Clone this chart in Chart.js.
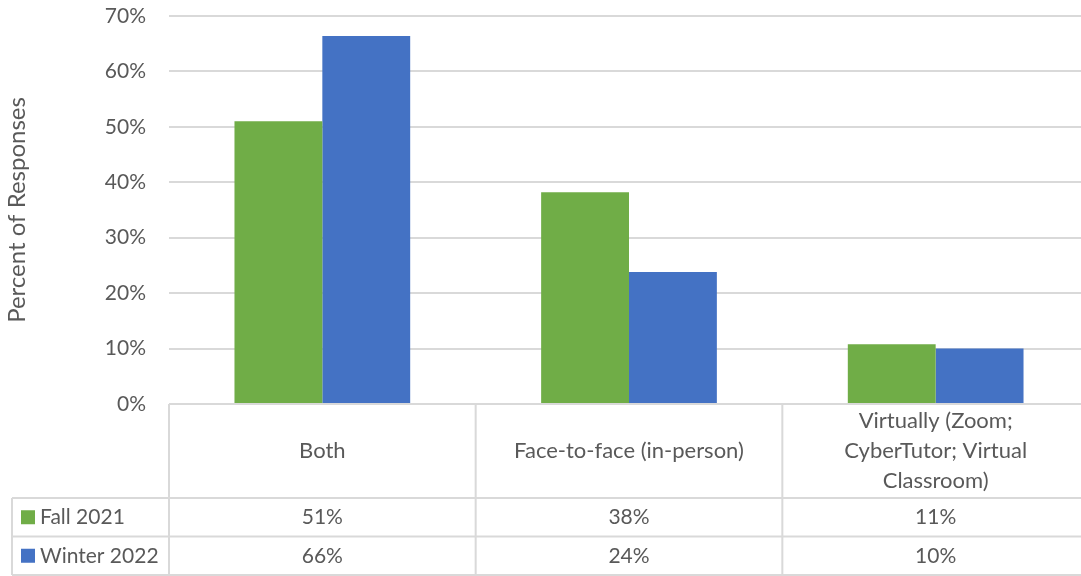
<!DOCTYPE html>
<html><head><meta charset="utf-8">
<script src="https://cdn.jsdelivr.net/npm/chart.js@4"></script>
<style>html,body{margin:0;padding:0;background:#fff;overflow:hidden;width:1081px;height:576px}#wrap{width:1090px;height:576px;position:relative}</style>
</head><body><div id="wrap"><canvas id="c"></canvas></div>
<script>
const categories = ["Both", "Face-to-face (in-person)", ["Virtually (Zoom;", "CyberTutor; Virtual", "Classroom)"]];
const seriesNames = ["Fall 2021", "Winter 2022"];
const fall2021 = [51.0, 38.2, 10.8];
const winter2022 = [66.4, 23.8, 10.0];
const yTickValues = [0, 10, 20, 30, 40, 50, 60, 70];
const seriesColors = ["#70ad47", "#4472c4"];

const FONT = "Lato";
const FS = 21;
const FS_CAT = 22;
const FS_TITLE = 24;
const TXT = "#595959";
const LINE = "#d9d9d9";

const tablePlugin = {
  id: 'dataTable',
  afterDraw(chart) {
    const ctx = chart.ctx, a = chart.chartArea, xs = chart.scales.x;
    const n = categories.length;
    const colW = (a.right - a.left) / n;
    const headH = 94, rowH = 38.5;
    const yTop = a.bottom, yHead = yTop + headH, yR1 = yHead + rowH, yEnd = yR1 + rowH;
    const xLeft = 12;
    ctx.save();
    ctx.strokeStyle = LINE; ctx.lineWidth = 2;
    ctx.beginPath();
    for (let i = 0; i <= n; i++) {
      const x = a.left + i * colW;
      ctx.moveTo(x, yTop); ctx.lineTo(x, yEnd);
    }
    ctx.moveTo(xLeft, yHead); ctx.lineTo(xLeft, yEnd);
    [yHead, yR1, yEnd].forEach(y => { ctx.moveTo(xLeft, y); ctx.lineTo(a.right, y); });
    ctx.stroke();

    ctx.fillStyle = TXT;
    ctx.font = FS_CAT + "px " + FONT;
    ctx.textAlign = "center"; ctx.textBaseline = "middle";
    const lh = 30;
    categories.forEach((c, i) => {
      const lines = Array.isArray(c) ? c : [c];
      const cx = xs.getPixelForValue(i);
      const cy = (yTop + yHead) / 2;
      lines.forEach((l, j) => ctx.fillText(l, cx, cy + (j - (lines.length - 1) / 2) * lh));
    });
    ctx.font = FS + "px " + FONT;
    const dataRows = [fall2021, winter2022];
    dataRows.forEach((row, r) => {
      const cy = yHead + rowH * (r + 0.5);
      row.forEach((v, i) => {
        ctx.textAlign = "center";
        ctx.fillText(Math.round(v) + "%", xs.getPixelForValue(i), cy);
      });
      ctx.fillStyle = seriesColors[r];
      ctx.fillRect(xLeft + 9, cy - 7, 14, 14);
      ctx.fillStyle = TXT;
      ctx.textAlign = "left";
      ctx.fillText(seriesNames[r], xLeft + 28, cy);
    });
    ctx.restore();
  }
};

new Chart(document.getElementById('c'), {
  type: 'bar',
  data: {
    labels: categories,
    datasets: [
      { label: seriesNames[0], data: fall2021, backgroundColor: seriesColors[0] },
      { label: seriesNames[1], data: winter2022, backgroundColor: seriesColors[1] }
    ]
  },
  options: {
    responsive: true, maintainAspectRatio: false, animation: false,
    layout: { padding: { top: 16, bottom: 172, right: 1, left: 0 } },
    datasets: { bar: { categoryPercentage: 0.573, barPercentage: 1.0 } },
    plugins: { legend: { display: false }, tooltip: { enabled: false } },
    scales: {
      x: { display: false },
      y: {
        min: 0, max: 70,
        afterFit(s) { s.width = 169; s.paddingTop = 0; s.paddingBottom = 0; },
        afterBuildTicks(s) { s.ticks = yTickValues.map(v => ({ value: v })); },
        border: { display: false },
        grid: { color: LINE, lineWidth: 2, drawTicks: false },
        ticks: { color: TXT, font: { family: FONT, size: FS }, padding: 23, callback: v => v + "%" },
        title: { display: true, text: "Percent of Responses", color: TXT, font: { family: FONT, size: FS_TITLE }, padding: { top: 3, bottom: 0 } }
      }
    }
  },
  plugins: [tablePlugin]
});
</script>
</body></html>
